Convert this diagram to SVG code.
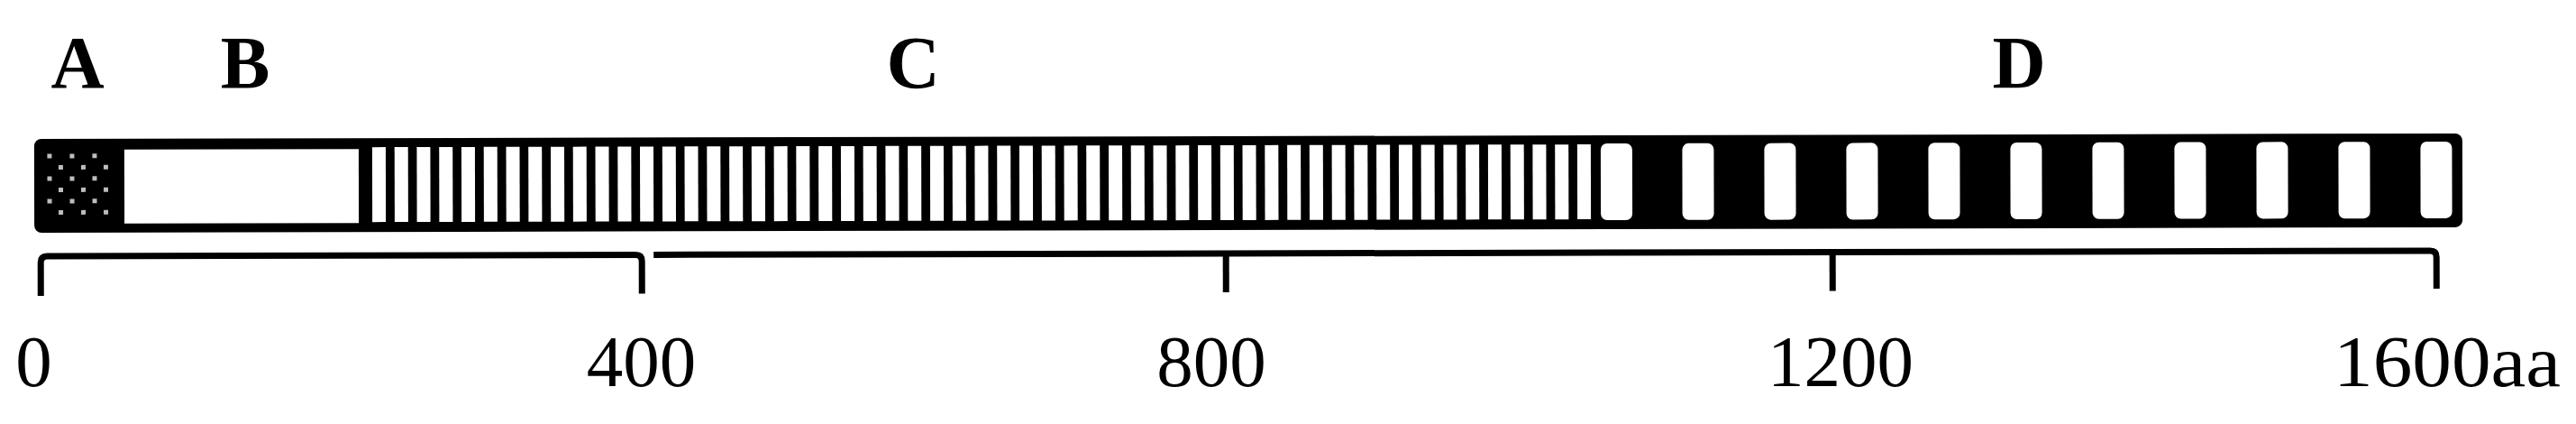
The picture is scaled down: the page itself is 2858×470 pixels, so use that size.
<svg xmlns="http://www.w3.org/2000/svg" width="2858" height="470" viewBox="0 0 2858 470">
<style>
.lbl{font-family:"Liberation Serif","Times New Roman",serif;font-weight:bold;font-size:82px;fill:#000;text-anchor:middle}
.num{font-family:"Liberation Serif","Times New Roman",serif;font-size:81px;fill:#000}
.w{fill:#fff}
.dot{fill:#bdbdbd}
.br{fill:none;stroke:#000;stroke-width:7;stroke-linecap:butt;stroke-linejoin:round}
</style>
<defs>
<rect id="s" width="15" height="83" y="164" class="w"/>
<rect id="b" width="35" height="85" y="163" rx="7" class="w"/>
<rect id="d" width="5" height="5" class="dot"/>
</defs>
<rect width="2858" height="470" fill="#fff"/>
<g id="labels">
<text class="lbl" x="86" y="97">A</text>
<text class="lbl" x="272" y="97">B</text>
<text class="lbl" x="1013" y="97">C</text>
<text class="lbl" x="2240" y="97">D</text>
</g>
<g transform="rotate(-0.13 38 206)">
<g id="bar">
<rect x="38" y="154" width="2694" height="104" rx="8" fill="#000"/>
</g>
<g id="regionA">
<use href="#d" x="52.5" y="170.5"/><use href="#d" x="77.5" y="170.5"/><use href="#d" x="102.5" y="170.5"/>
<use href="#d" x="65" y="183"/><use href="#d" x="90" y="183"/><use href="#d" x="115" y="183"/>
<use href="#d" x="52.5" y="195.5"/><use href="#d" x="77.5" y="195.5"/><use href="#d" x="102.5" y="195.5"/>
<use href="#d" x="65" y="208"/><use href="#d" x="90" y="208"/><use href="#d" x="115" y="208"/>
<use href="#d" x="52.5" y="220.5"/><use href="#d" x="77.5" y="220.5"/><use href="#d" x="102.5" y="220.5"/>
<use href="#d" x="65" y="233"/><use href="#d" x="90" y="233"/><use href="#d" x="115" y="233"/>
</g>
<g id="regionB">
<rect x="138" y="166" width="260" height="82" class="w"/>
</g>
<g id="regionC">
<use href="#s" x="413.0"/><use href="#s" x="437.8"/><use href="#s" x="462.5"/><use href="#s" x="487.3"/><use href="#s" x="512.0"/>
<use href="#s" x="536.8"/><use href="#s" x="561.6"/><use href="#s" x="586.3"/><use href="#s" x="611.1"/><use href="#s" x="635.8"/>
<use href="#s" x="660.6"/><use href="#s" x="685.4"/><use href="#s" x="710.1"/><use href="#s" x="734.9"/><use href="#s" x="759.6"/>
<use href="#s" x="784.4"/><use href="#s" x="809.2"/><use href="#s" x="833.9"/><use href="#s" x="858.7"/><use href="#s" x="883.4"/>
<use href="#s" x="908.2"/><use href="#s" x="933.0"/><use href="#s" x="957.7"/><use href="#s" x="982.5"/><use href="#s" x="1007.2"/>
<use href="#s" x="1032.0"/><use href="#s" x="1056.8"/><use href="#s" x="1081.5"/><use href="#s" x="1106.3"/><use href="#s" x="1131.0"/>
<use href="#s" x="1155.8"/><use href="#s" x="1180.6"/><use href="#s" x="1205.3"/><use href="#s" x="1230.1"/><use href="#s" x="1254.8"/>
<use href="#s" x="1279.6"/><use href="#s" x="1304.4"/><use href="#s" x="1329.1"/><use href="#s" x="1353.9"/><use href="#s" x="1378.6"/>
<use href="#s" x="1403.4"/><use href="#s" x="1428.2"/><use href="#s" x="1452.9"/><use href="#s" x="1477.7"/><use href="#s" x="1502.4"/>
<use href="#s" x="1527.2"/><use href="#s" x="1552.0"/><use href="#s" x="1576.7"/><use href="#s" x="1601.5"/><use href="#s" x="1626.2"/>
<use href="#s" x="1651.0"/><use href="#s" x="1675.8"/><use href="#s" x="1700.5"/><use href="#s" x="1725.3"/><use href="#s" x="1750.0"/>
</g>
<g id="regionD">
<use href="#b" x="1776"/><use href="#b" x="1866.5"/><use href="#b" x="1957.5"/><use href="#b" x="2048.5"/>
<use href="#b" x="2139.5"/><use href="#b" x="2230.5"/><use href="#b" x="2321.5"/><use href="#b" x="2412.5"/>
<use href="#b" x="2503.5"/><use href="#b" x="2594.5"/><use href="#b" x="2685.5"/>
</g>
<g id="connectors">
<path class="br" d="M45,328 V291 Q45,284 52,284 H705 Q712,284 712,291 V327"/>
<path class="br" d="M725,284 H2696 Q2703,284 2703,291 V326"/>
<path class="br" d="M1360,284 V327"/>
<path class="br" d="M2033,284 V327"/>
</g>
</g>
<g id="scale">
<text class="num" x="37.5" y="428" text-anchor="middle">0</text>
<text class="num" x="711.5" y="428" text-anchor="middle">400</text>
<text class="num" x="1344" y="428" text-anchor="middle">800</text>
<text class="num" x="2042" y="428" text-anchor="middle">1200</text>
<text class="num" x="2589" y="428" textLength="252" lengthAdjust="spacingAndGlyphs">1600aa</text>
</g>
</svg>
